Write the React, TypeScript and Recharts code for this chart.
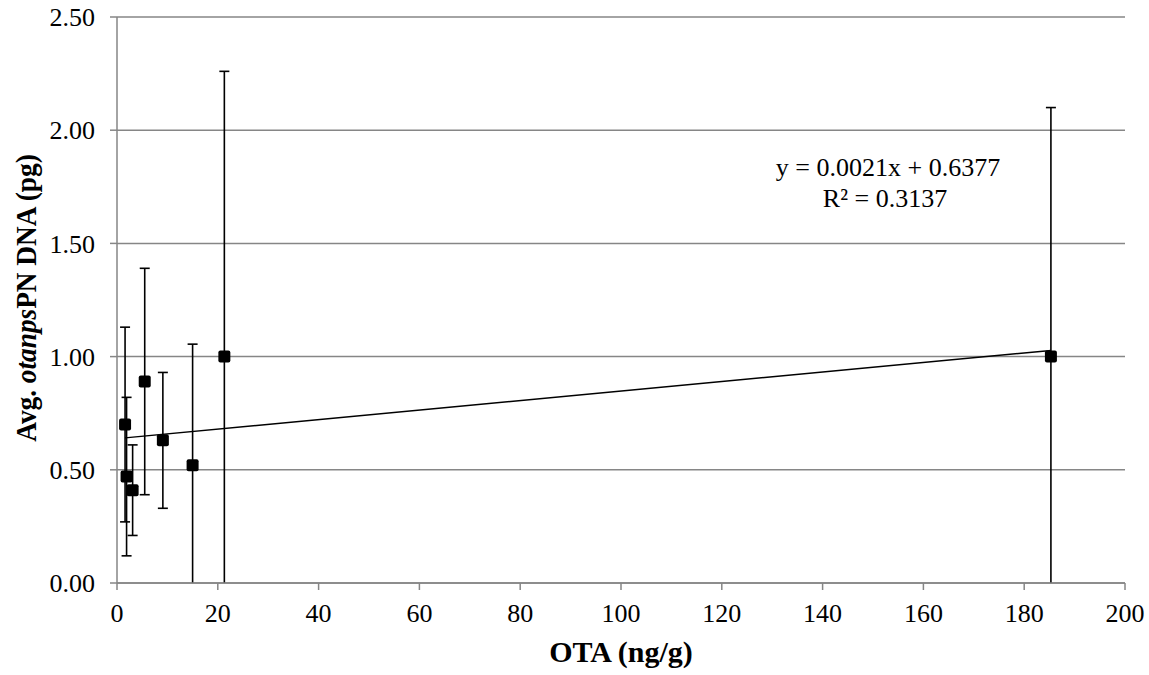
import React from "react";
import {
  ScatterChart,
  Scatter,
  XAxis,
  YAxis,
  CartesianGrid,
  ErrorBar,
  ReferenceLine,
  Customized,
} from "recharts";

// OTA concentration (ng/g) vs average otanpsPN DNA (pg), with SD
const otaValues = [1.6, 1.9, 3.1, 5.5, 9.1, 15.0, 21.3, 185.3];
const dnaValues = [0.7, 0.47, 0.41, 0.89, 0.63, 0.52, 1.0, 1.0];
const dnaErrors = [0.43, 0.35, 0.2, 0.5, 0.3, 0.535, 1.26, 1.1];

const xTicks = [0, 20, 40, 60, 80, 100, 120, 140, 160, 180, 200];
const yTicks = [0, 0.5, 1, 1.5, 2, 2.5];

// linear trendline as reported by the chart
const trendStart = { x: 1.6, y: 0.641 };
const trendEnd = { x: 185.3, y: 1.027 };
const trendEquation = "y = 0.0021x + 0.6377";
const trendR2 = "R² = 0.3137";

const points = otaValues.map((x, i) => ({ x, y: dnaValues[i], err: dnaErrors[i] }));

const GRID = "#868686";
const FONT = '"Liberation Serif", "Times New Roman", serif';

const SquareMarker = (props: any) => {
  const { cx, cy } = props;
  return <rect x={cx - 6} y={cy - 6} width={12} height={12} rx={2} fill="#000" />;
};

// error bars stop at the x axis like in the original
const ClipDefs = (props: any) => {
  const { offset } = props;
  const bottom = offset ? offset.top + offset.height : 583;
  return (
    <defs>
      <clipPath id="errClip">
        <rect x={0} y={0} width={1149} height={bottom} />
      </clipPath>
    </defs>
  );
};

const EquationText = () => (
  <g>
    <text x={888} y={176} textAnchor="middle" fontSize={26} fill="#000" fontFamily={FONT}>
      {trendEquation}
    </text>
    <text x={885} y={207} textAnchor="middle" fontSize={26} fill="#000" fontFamily={FONT}>
      {trendR2}
    </text>
  </g>
);

// original title is a bit condensed along its length
const YTitle = () => (
  <text
    x={0}
    y={0}
    transform="translate(36 298) rotate(-90) scale(0.91 1)"
    textAnchor="middle"
    fontSize={30}
    fontWeight="bold"
    fill="#000"
    fontFamily={FONT}
  >
    Avg. <tspan fontStyle="italic">otanps</tspan>PN DNA (pg)
  </text>
);

const XTitle = () => (
  <text x={621} y={662} textAnchor="middle" fontSize={30} fontWeight="bold" fill="#000" fontFamily={FONT}>
    OTA (ng/g)
  </text>
);

export default function App() {
  return (
    <div style={{ position: "absolute", left: 0, top: 0, fontFamily: FONT, background: "#fff" }}>
      <style>{`.recharts-errorBars, .recharts-errorBar { clip-path: url(#errClip); }`}</style>
      <ScatterChart width={1149} height={675} margin={{ top: 17, right: 24, bottom: 0, left: 0 }}>
        <Customized component={ClipDefs} />
        <CartesianGrid vertical={false} stroke={GRID} strokeWidth={1.5} />
        <XAxis
          type="number"
          dataKey="x"
          domain={[0, 200]}
          ticks={xTicks}
          height={92}
          stroke={GRID}
          strokeWidth={1.5}
          tickSize={7}
          tickMargin={14}
          tick={{ fontSize: 26, fill: "#000", fontFamily: FONT }}
        />
        <YAxis
          type="number"
          dataKey="y"
          domain={[0, 2.5]}
          ticks={yTicks}
          allowDataOverflow
          width={117}
          stroke={GRID}
          strokeWidth={1.5}
          tickSize={7}
          tickMargin={15}
          tickFormatter={(v: number) => v.toFixed(2)}
          tick={{ fontSize: 26, fill: "#000", fontFamily: FONT }}
        />
        <ReferenceLine
          segment={[trendStart, trendEnd]}
          stroke="#000"
          strokeWidth={1.5}
        />
        <Scatter data={points} shape={<SquareMarker />} isAnimationActive={false}>
          <ErrorBar dataKey="err" direction="y" width={5} stroke="#000" strokeWidth={1.6} />
        </Scatter>
        <Customized component={EquationText} />
        <Customized component={YTitle} />
        <Customized component={XTitle} />
      </ScatterChart>
    </div>
  );
}
